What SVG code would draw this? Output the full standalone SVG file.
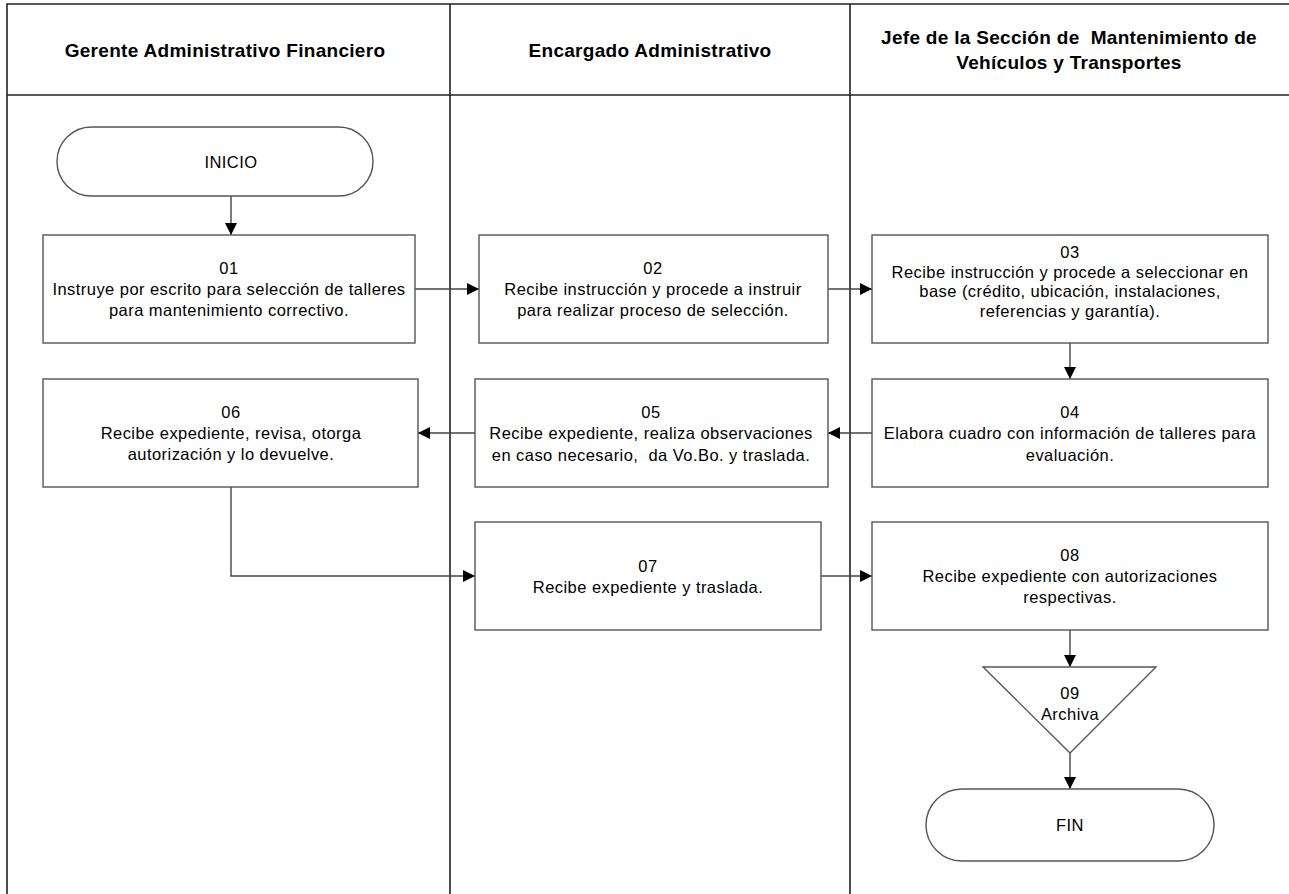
<svg xmlns="http://www.w3.org/2000/svg" width="1289" height="894" viewBox="0 0 1289 894">
<style>
.lane{fill:none;stroke:#222;stroke-width:1.6}
.box{fill:#fff;stroke:#555;stroke-width:1.4}
.hd{font-family:"Liberation Sans",Arial,sans-serif;font-weight:bold;font-size:19px;letter-spacing:0.3px;fill:#000;text-anchor:middle;dominant-baseline:central;white-space:pre}
.t{font-family:"Liberation Sans",Arial,sans-serif;font-size:16.5px;letter-spacing:0.45px;fill:#000;text-anchor:middle;dominant-baseline:central;white-space:pre}
.c{fill:none;stroke:#444;stroke-width:1.4}
</style>
<defs>
<marker id="ah" viewBox="0 0 12 12" refX="12" refY="6" markerWidth="12" markerHeight="12" markerUnits="userSpaceOnUse" orient="auto">
<path d="M0,0 L12,6 L0,12 z" fill="#000"/>
</marker>
</defs>
<rect width="1289" height="894" fill="#fff"/>
<g id="lanes">
<path class="lane" d="M7,894 V4 H1295 M7,95 H1295 M450,4 V894 M850,4 V894"/>
<text class="hd" x="225" y="50">Gerente Administrativo Financiero</text>
<text class="hd" x="650" y="50">Encargado Administrativo</text>
<text class="hd" x="1069" y="37">Jefe de la Sección de  Mantenimiento de</text>
<text class="hd" x="1069" y="62">Vehículos y Transportes</text>
</g>
<g id="connectors">
<path class="c" d="M231,196 V235" marker-end="url(#ah)"/>
<path class="c" d="M415,289 H479" marker-end="url(#ah)"/>
<path class="c" d="M828,289 H872" marker-end="url(#ah)"/>
<path class="c" d="M1070,343 V379" marker-end="url(#ah)"/>
<path class="c" d="M872,433 H828" marker-end="url(#ah)"/>
<path class="c" d="M475,433 H418" marker-end="url(#ah)"/>
<path class="c" d="M231,487 V576 H475" marker-end="url(#ah)"/>
<path class="c" d="M821,576 H872" marker-end="url(#ah)"/>
<path class="c" d="M1070,630 V667" marker-end="url(#ah)"/>
<path class="c" d="M1070,753 V789" marker-end="url(#ah)"/>
</g>
<g id="inicio">
<rect class="box" x="57" y="127" width="316" height="69" rx="34.5"/>
<text class="t" x="231" y="162">INICIO</text>
</g>
<g id="n01">
<rect class="box" x="43" y="235" width="372" height="108"/>
<text class="t" x="229" y="268">01</text>
<text class="t" x="229" y="289">Instruye por escrito para selección de talleres</text>
<text class="t" x="229" y="310">para mantenimiento correctivo.</text>
</g>
<g id="n02">
<rect class="box" x="479" y="235" width="349" height="108"/>
<text class="t" x="653" y="268">02</text>
<text class="t" x="653" y="289">Recibe instrucción y procede a instruir</text>
<text class="t" x="653" y="310">para realizar proceso de selección.</text>
</g>
<g id="n03">
<rect class="box" x="872" y="235" width="396" height="108"/>
<text class="t" x="1070" y="252">03</text>
<text class="t" x="1070" y="272">Recibe instrucción y procede a seleccionar en</text>
<text class="t" x="1070" y="291">base (crédito, ubicación, instalaciones,</text>
<text class="t" x="1070" y="311">referencias y garantía).</text>
</g>
<g id="n04">
<rect class="box" x="872" y="379" width="396" height="108"/>
<text class="t" x="1070" y="412">04</text>
<text class="t" x="1070" y="433">Elabora cuadro con información de talleres para</text>
<text class="t" x="1070" y="455">evaluación.</text>
</g>
<g id="n05">
<rect class="box" x="475" y="379" width="353" height="108"/>
<text class="t" x="651" y="412">05</text>
<text class="t" x="651" y="433">Recibe expediente, realiza observaciones</text>
<text class="t" x="651" y="455">en caso necesario,  da Vo.Bo. y traslada.</text>
</g>
<g id="n06">
<rect class="box" x="43" y="379" width="375" height="108"/>
<text class="t" x="231" y="412">06</text>
<text class="t" x="231" y="433">Recibe expediente, revisa, otorga</text>
<text class="t" x="231" y="454">autorización y lo devuelve.</text>
</g>
<g id="n07">
<rect class="box" x="475" y="522" width="346" height="108"/>
<text class="t" x="648" y="566">07</text>
<text class="t" x="648" y="587">Recibe expediente y traslada.</text>
</g>
<g id="n08">
<rect class="box" x="872" y="522" width="396" height="108"/>
<text class="t" x="1070" y="555">08</text>
<text class="t" x="1070" y="576">Recibe expediente con autorizaciones</text>
<text class="t" x="1070" y="597">respectivas.</text>
</g>
<g id="n09">
<path class="box" d="M983,667 H1156 L1070,753 Z"/>
<text class="t" x="1070" y="693">09</text>
<text class="t" x="1070" y="714">Archiva</text>
</g>
<g id="fin">
<rect class="box" x="926" y="789" width="288" height="72" rx="36"/>
<text class="t" x="1070" y="825">FIN</text>
</g>
</svg>
